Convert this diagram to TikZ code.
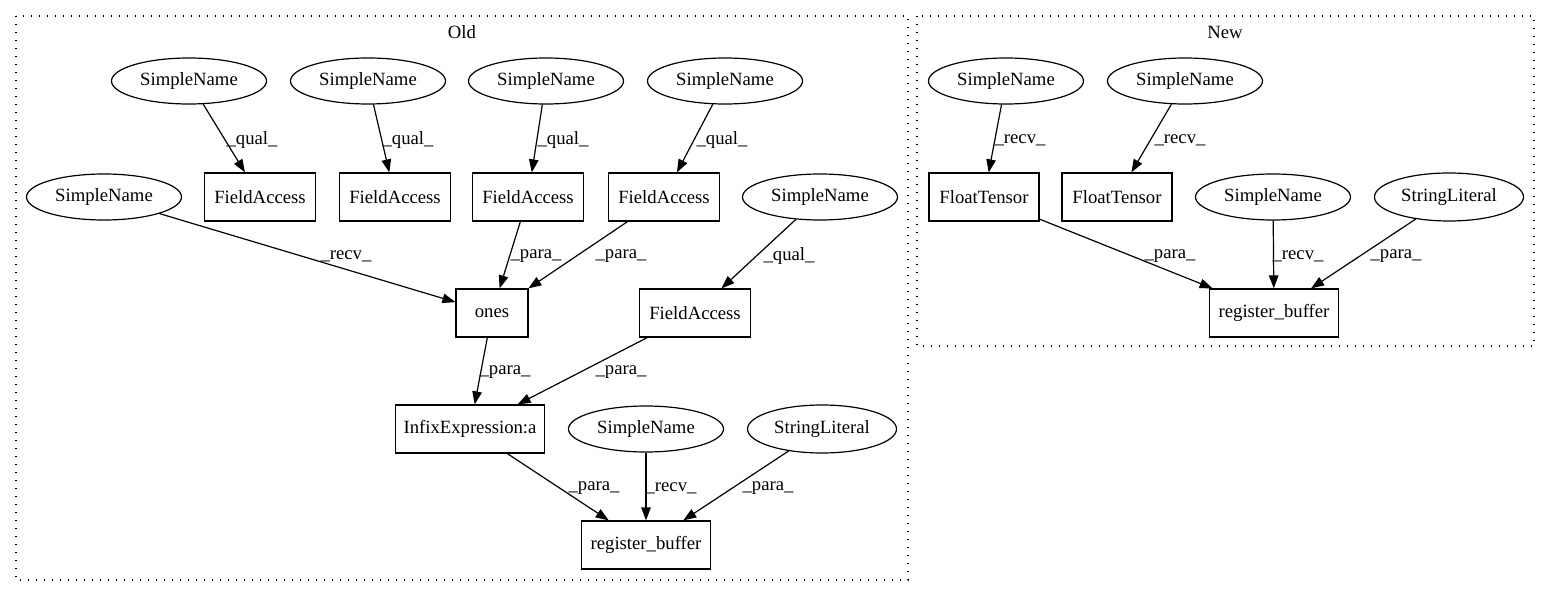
\documentclass[tikz,border=0pt]{standalone}
\usepackage{fontspec}
\setmainfont{Liberation Serif}
\usetikzlibrary{shapes.geometric,arrows.meta}
\begin{document}
\begin{tikzpicture}[x=1pt,y=-1pt,
  every node/.style={font=\fontsize{18.7}{22}\selectfont, inner sep=0pt},
  ell/.style={draw, ellipse, line width=1.2pt, minimum width=155pt, minimum height=46pt},
  lit/.style={draw, ellipse, line width=1.2pt, minimum width=149pt, minimum height=48pt},
  box/.style={draw, rectangle, line width=1.2pt, minimum height=48pt},
  edge/.style={line width=1.2pt, -{Triangle[length=13pt,width=9.5pt]}},
  lbl/.style={},
  cluster/.style={line width=1.3pt, dash pattern=on 1.4pt off 6.6pt}]
\useasboundingbox (0,0) rectangle (1551,596);

% clusters
\draw[cluster] (16,16) rectangle (908,580);
\node (oldtitle) at (462,32) {Old};
\draw[cluster] (917,16) rectangle (1534,346);
\node (newtitle) at (1225,32) {New};

% ---- Old ----
\node[ell] (sa) at (189,81) {SimpleName};
\node[ell] (sb) at (368,81) {SimpleName};
\node[ell] (sc) at (546,81) {SimpleName};
\node[ell] (sd) at (725,81) {SimpleName};
\node[ell] (se) at (104,197) {SimpleName};
\node[box, minimum width=111pt] (fa1) at (260,197) {FieldAccess};
\node[box, minimum width=111pt] (fa2) at (395,197) {FieldAccess};
\node[box, minimum width=111pt] (fa3) at (528,197) {FieldAccess};
\node[box, minimum width=111pt] (fa4) at (664,197) {FieldAccess};
\node[ell] (sf) at (820,197) {SimpleName};
\node[box, minimum width=72pt] (ones) at (492,313) {ones};
\node[box, minimum width=111pt] (fa5) at (695,313) {FieldAccess};
\node[box, minimum width=149pt] (infix) at (470,429) {InfixExpression:a};
\node[ell] (sg) at (646,429) {SimpleName};
\node[lit] (sl) at (822,429) {StringLiteral};
\node[box, minimum width=129pt] (rb) at (646,545) {register\_buffer};

\draw[edge] (sa) -- (fa1) node[lbl, at={(252,140)}] {\_qual\_};
\draw[edge] (sb) -- (fa2) node[lbl, at={(408,140)}] {\_qual\_};
\draw[edge] (sc) -- (fa3) node[lbl, at={(563,140)}] {\_qual\_};
\draw[edge] (sd) -- (fa4) node[lbl, at={(722,140)}] {\_qual\_};
\draw[edge] (se) -- (ones) node[lbl, at={(346,256)}] {\_recv\_};
\draw[edge] (fa3) -- (ones) node[lbl, at={(536,256)}] {\_para\_};
\draw[edge] (fa4) -- (ones) node[lbl, at={(621,256)}] {\_para\_};
\draw[edge] (sf) -- (fa5) node[lbl, at={(789,256)}] {\_qual\_};
\draw[edge] (ones) -- (infix) node[lbl, at={(505,372)}] {\_para\_};
\draw[edge] (fa5) -- (infix) node[lbl, at={(621,372)}] {\_para\_};
\draw[edge] (infix) -- (rb) node[lbl, at={(594,488)}] {\_para\_};
\draw[edge] (sg) -- (rb) node[lbl, at={(671,488)}] {\_recv\_};
\draw[edge] (sl) -- (rb) node[lbl, at={(768,488)}] {\_para\_};

% ---- New ----
\node[ell] (n1) at (1006,81) {SimpleName};
\node[ell] (n2) at (1185,81) {SimpleName};
\node[box, minimum width=110pt] (ft1) at (984,197) {FloatTensor};
\node[box, minimum width=110pt] (ft2) at (1117,197) {FloatTensor};
\node[ell] (n3) at (1273,197) {SimpleName};
\node[lit] (nsl) at (1449,197) {StringLiteral};
\node[box, minimum width=129pt] (nrb) at (1274,313) {register\_buffer};

\draw[edge] (n1) -- (ft1) node[lbl, at={(1020,140)}] {\_recv\_};
\draw[edge] (n2) -- (ft2) node[lbl, at={(1180,140)}] {\_recv\_};
\draw[edge] (ft1) -- (nrb) node[lbl, at={(1170,256)}] {\_para\_};
\draw[edge] (n3) -- (nrb) node[lbl, at={(1298,256)}] {\_recv\_};
\draw[edge] (nsl) -- (nrb) node[lbl, at={(1396,256)}] {\_para\_};
\end{tikzpicture}
\end{document}
